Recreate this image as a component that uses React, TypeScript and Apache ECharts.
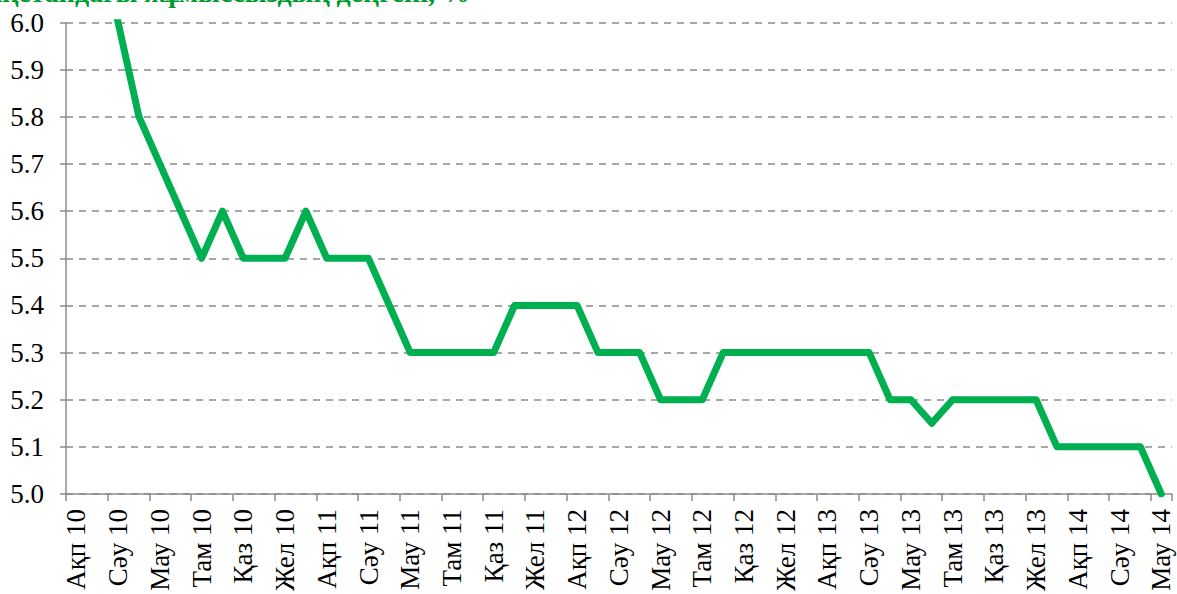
import React, { useEffect, useRef } from "react";
import * as echarts from "echarts";

const categories = [
  "Ақп 10", "Нау 10", "Сәу 10", "Мам 10", "Мау 10", "Шіл 10", "Там 10", "Қыр 10", "Қаз 10", "Қар 10", "Жел 10",
  "Қаң 11", "Ақп 11", "Нау 11", "Сәу 11", "Мам 11", "Мау 11", "Шіл 11", "Там 11", "Қыр 11", "Қаз 11", "Қар 11", "Жел 11",
  "Қаң 12", "Ақп 12", "Нау 12", "Сәу 12", "Мам 12", "Мау 12", "Шіл 12", "Там 12", "Қыр 12", "Қаз 12", "Қар 12", "Жел 12",
  "Қаң 13", "Ақп 13", "Нау 13", "Сәу 13", "Мам 13", "Мау 13", "Шіл 13", "Там 13", "Қыр 13", "Қаз 13", "Қар 13", "Жел 13",
  "Қаң 14", "Ақп 14", "Нау 14", "Сәу 14", "Мам 14", "Мау 14",
];

const unemployment = [
  6.3, 6.2, 6.0, 5.8, 5.7, 5.6, 5.5, 5.6, 5.5, 5.5, 5.5,
  5.6, 5.5, 5.5, 5.5, 5.4, 5.3, 5.3, 5.3, 5.3, 5.3, 5.4, 5.4,
  5.4, 5.4, 5.3, 5.3, 5.3, 5.2, 5.2, 5.2, 5.3, 5.3, 5.3, 5.3,
  5.3, 5.3, 5.3, 5.3, 5.2, 5.2, 5.15, 5.2, 5.2, 5.2, 5.2, 5.2,
  5.1, 5.1, 5.1, 5.1, 5.1, 5.0,
];

const titleText = "Қазақстандағы жұмыссыздық деңгейі, %";
const yMin = 5.0;
const yMax = 6.0;
const yStep = 0.1;

const FONT = "Liberation Serif";

export default function App() {
  const ref = useRef<HTMLDivElement | null>(null);
  useEffect(() => {
    document.body.style.margin = "0";
    if (!ref.current) return;
    const chart = echarts.init(ref.current, undefined, { renderer: "svg" });
    chart.setOption({
      animation: false,
      backgroundColor: "#ffffff",
      textStyle: { fontFamily: FONT },
      grid: { left: 66, right: 5.3, top: 22.7, bottom: 98, containLabel: false },
      graphic: [
        {
          type: "text",
          right: 1177 - 470,
          top: -22,
          style: {
            text: titleText,
            fill: "#009a2e",
            fontFamily: FONT,
            fontWeight: "bold",
            fontSize: 28,
          },
        },
      ],
      xAxis: {
        type: "category",
        data: categories,
        boundaryGap: true,
        axisLine: { show: true, lineStyle: { color: "#8c8c8c", width: 1.5 } },
        axisTick: { show: true, interval: 1, length: 7, lineStyle: { color: "#8c8c8c", width: 1.5 } },
        axisLabel: {
          interval: 1,
          rotate: 90,
          margin: 15,
          color: "#000000",
          fontFamily: FONT,
          fontSize: 27,
        },
        splitLine: { show: false },
      },
      yAxis: {
        type: "value",
        min: yMin,
        max: yMax,
        interval: yStep,
        axisLine: { show: true, lineStyle: { color: "#8c8c8c", width: 1.5 } },
        axisTick: { show: true, inside: false, length: 6, lineStyle: { color: "#8c8c8c", width: 1.5 } },
        axisLabel: {
          margin: 22,
          color: "#000000",
          fontFamily: FONT,
          fontSize: 27,
          formatter: (v: number) => v.toFixed(1),
        },
        splitLine: {
          show: true,
          lineStyle: { color: "#8a8a8a", width: 1.5, type: [7, 6] },
        },
      },
      series: [
        {
          type: "line",
          data: unemployment,
          symbol: "none",
          clip: true,
          lineStyle: { color: "#00b050", width: 7, join: "round", cap: "round" },
        },
      ],
    });
    return () => chart.dispose();
  }, []);
  return <div ref={ref} style={{ width: 1177, height: 594 }} />;
}
